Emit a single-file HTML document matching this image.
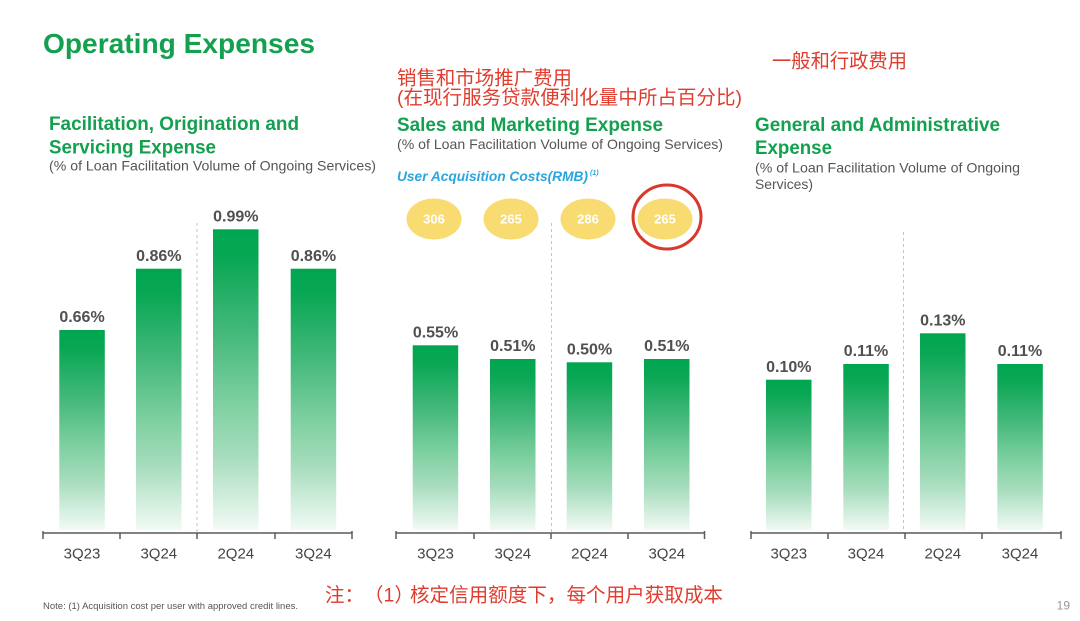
<!DOCTYPE html>
<html>
<head>
<meta charset="utf-8">
<style>
html,body{margin:0;padding:0;background:#fff;}
svg{display:block;}
text{font-family:"Liberation Sans","Noto Sans CJK SC",sans-serif;}
</style>
</head>
<body>
<svg width="1080" height="621" viewBox="0 0 1080 621" xmlns="http://www.w3.org/2000/svg">
<defs>
<linearGradient id="g" x1="0" y1="0" x2="0" y2="1">
<stop offset="0" stop-color="#00a550"/>
<stop offset="0.1" stop-color="#0aa755"/>
<stop offset="0.35" stop-color="#45b97b"/>
<stop offset="0.57" stop-color="#7ccf9f"/>
<stop offset="0.75" stop-color="#a5dcbc"/>
<stop offset="1" stop-color="#f2faf5"/>
</linearGradient>
</defs>
<rect width="1080" height="621" fill="#fff"/>

<!-- Main title -->
<text x="43" y="53" font-size="28" font-weight="bold" fill="#13a04f" textLength="272" lengthAdjust="spacingAndGlyphs">Operating Expenses</text>

<!-- Panel 1 headings -->
<text x="49" y="130.1" font-size="19" font-weight="bold" fill="#13a04f" textLength="250" lengthAdjust="spacingAndGlyphs">Facilitation, Origination and</text>
<text x="49" y="153.5" font-size="19" font-weight="bold" fill="#13a04f" textLength="167" lengthAdjust="spacingAndGlyphs">Servicing Expense</text>
<text x="49" y="170.7" font-size="14" fill="#555" textLength="327" lengthAdjust="spacingAndGlyphs">(% of Loan Facilitation Volume of Ongoing Services)</text>

<!-- Panel 2 headings -->
<text x="397" y="84.5" font-size="19.5" fill="#e03c2e" textLength="175" lengthAdjust="spacingAndGlyphs">销售和市场推广费用</text>
<text x="397" y="103.9" font-size="19.5" fill="#e03c2e" textLength="345" lengthAdjust="spacingAndGlyphs">(在现行服务贷款便利化量中所占百分比)</text>
<text x="397" y="130.8" font-size="19" font-weight="bold" fill="#13a04f" textLength="266" lengthAdjust="spacingAndGlyphs">Sales and Marketing Expense</text>
<text x="397" y="149" font-size="14" fill="#555" textLength="326" lengthAdjust="spacingAndGlyphs">(% of Loan Facilitation Volume of Ongoing Services)</text>
<text x="397" y="180.8" font-size="13.5" font-weight="bold" font-style="italic" fill="#2aa6de" textLength="191" lengthAdjust="spacingAndGlyphs">User Acquisition Costs(RMB)</text>
<text x="590" y="175" font-size="7" font-weight="bold" font-style="italic" fill="#2aa6de">(1)</text>

<!-- Panel 3 headings -->
<text x="772" y="67.4" font-size="19.5" fill="#e03c2e" textLength="135" lengthAdjust="spacingAndGlyphs">一般和行政费用</text>
<text x="755" y="130.8" font-size="19" font-weight="bold" fill="#13a04f" textLength="245" lengthAdjust="spacingAndGlyphs">General and Administrative</text>
<text x="755" y="154.1" font-size="19" font-weight="bold" fill="#13a04f" textLength="77" lengthAdjust="spacingAndGlyphs">Expense</text>
<text x="755" y="172.3" font-size="14" fill="#555" textLength="265" lengthAdjust="spacingAndGlyphs">(% of Loan Facilitation Volume of Ongoing</text>
<text x="755" y="189" font-size="14" fill="#555" textLength="58" lengthAdjust="spacingAndGlyphs">Services)</text>

<!-- Dividers -->
<g stroke="#c4c4c4" stroke-width="1" stroke-dasharray="3,3">
<line x1="197" y1="223" x2="197" y2="533"/>
<line x1="551.5" y1="223" x2="551.5" y2="533"/>
<line x1="903.5" y1="232" x2="903.5" y2="533"/>
</g>

<!-- Ellipses -->
<ellipse cx="434" cy="219" rx="27.5" ry="20.5" fill="#f8dc72"/>
<ellipse cx="511" cy="219" rx="27.5" ry="20.5" fill="#f8dc72"/>
<ellipse cx="588" cy="219" rx="27.5" ry="20.5" fill="#f8dc72"/>
<ellipse cx="665" cy="219" rx="27.5" ry="20.5" fill="#f8dc72"/>
<ellipse cx="667" cy="217" rx="34" ry="32" fill="none" stroke="#d9392b" stroke-width="3"/>
<g font-size="13" font-weight="bold" fill="#fff" text-anchor="middle">
<text x="434" y="223.7">306</text>
<text x="511" y="223.7">265</text>
<text x="588" y="223.7">286</text>
<text x="665" y="223.7">265</text>
</g>

<!-- Bars -->
<g fill="url(#g)">
<rect x="59.3" y="330" width="45.5" height="200"/>
<rect x="136" y="268.7" width="45.5" height="261.3"/>
<rect x="213" y="229.3" width="45.5" height="300.7"/>
<rect x="290.7" y="268.7" width="45.5" height="261.3"/>
<rect x="412.7" y="345.3" width="45.5" height="184.7"/>
<rect x="490" y="359" width="45.5" height="171"/>
<rect x="566.7" y="362.3" width="45.5" height="167.7"/>
<rect x="644" y="359" width="45.5" height="171"/>
<rect x="766" y="379.7" width="45.5" height="150.3"/>
<rect x="843.3" y="364" width="45.5" height="166"/>
<rect x="920" y="333.3" width="45.5" height="196.7"/>
<rect x="997.3" y="364" width="45.5" height="166"/>
</g>

<!-- Bar labels -->
<g font-size="16" font-weight="bold" fill="#505050" text-anchor="middle">
<text x="82" y="322.2">0.66%</text>
<text x="158.8" y="260.9">0.86%</text>
<text x="235.8" y="221.5">0.99%</text>
<text x="313.4" y="260.9">0.86%</text>
<text x="435.5" y="337.5">0.55%</text>
<text x="512.8" y="351.2">0.51%</text>
<text x="589.5" y="354.5">0.50%</text>
<text x="666.8" y="351.2">0.51%</text>
<text x="788.8" y="371.9">0.10%</text>
<text x="866" y="356.2">0.11%</text>
<text x="942.8" y="325.5">0.13%</text>
<text x="1020" y="356.2">0.11%</text>
</g>

<!-- Axes -->
<g stroke="#5a5a5a" stroke-width="1.5" fill="none">
<line x1="43" y1="533" x2="352" y2="533"/>
<line x1="43" y1="531" x2="43" y2="539"/>
<line x1="120" y1="533" x2="120" y2="539"/>
<line x1="197" y1="533" x2="197" y2="539"/>
<line x1="275" y1="533" x2="275" y2="539"/>
<line x1="352" y1="531" x2="352" y2="539"/>

<line x1="396" y1="533" x2="704.5" y2="533"/>
<line x1="396" y1="531" x2="396" y2="539"/>
<line x1="474" y1="533" x2="474" y2="539"/>
<line x1="551" y1="533" x2="551" y2="539"/>
<line x1="628" y1="533" x2="628" y2="539"/>
<line x1="704.5" y1="531" x2="704.5" y2="539"/>

<line x1="751" y1="533" x2="1061" y2="533"/>
<line x1="751" y1="531" x2="751" y2="539"/>
<line x1="828" y1="533" x2="828" y2="539"/>
<line x1="905" y1="533" x2="905" y2="539"/>
<line x1="982" y1="533" x2="982" y2="539"/>
<line x1="1061" y1="531" x2="1061" y2="539"/>
</g>

<!-- X labels -->
<g font-size="15" fill="#444" text-anchor="middle">
<text x="82" y="558.4">3Q23</text>
<text x="158.8" y="558.4">3Q24</text>
<text x="235.8" y="558.4">2Q24</text>
<text x="313.4" y="558.4">3Q24</text>
<text x="435.5" y="558.4">3Q23</text>
<text x="512.8" y="558.4">3Q24</text>
<text x="589.5" y="558.4">2Q24</text>
<text x="666.8" y="558.4">3Q24</text>
<text x="788.8" y="558.4">3Q23</text>
<text x="866" y="558.4">3Q24</text>
<text x="942.8" y="558.4">2Q24</text>
<text x="1020" y="558.4">3Q24</text>
</g>

<!-- Bottom notes -->
<text x="325" y="601.4" font-size="19.5" fill="#e03c2e">注：</text>
<text x="364" y="601.4" font-size="19.5" fill="#e03c2e">（1）</text>
<text x="410" y="601.4" font-size="19.5" fill="#e03c2e" textLength="313" lengthAdjust="spacingAndGlyphs">核定信用额度下，每个用户获取成本</text>
<text x="43" y="609.2" font-size="9" fill="#555" textLength="255" lengthAdjust="spacingAndGlyphs">Note: (1) Acquisition cost per user with approved credit lines.</text>
<text x="1070" y="609.5" font-size="12" fill="#999" text-anchor="end">19</text>
</svg>
</body>
</html>
